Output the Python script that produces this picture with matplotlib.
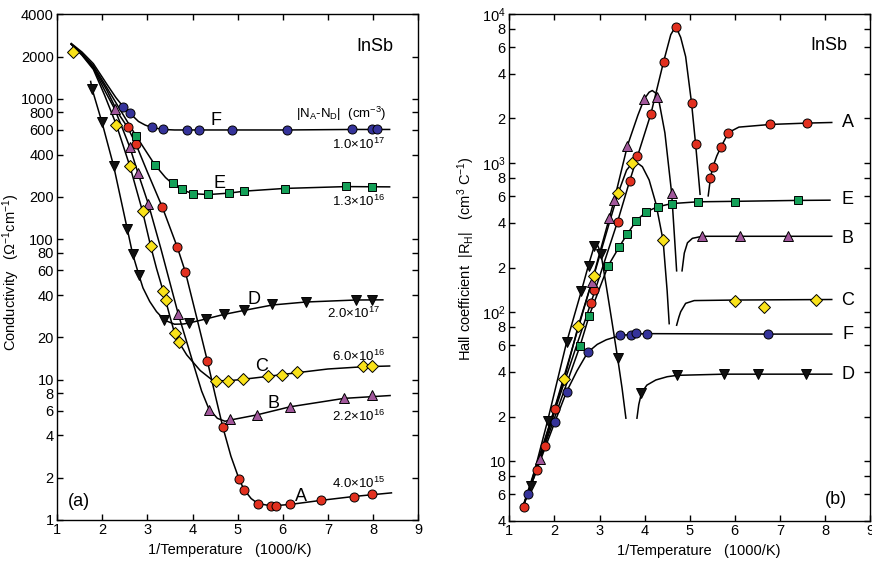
import matplotlib
matplotlib.use('Agg')
import matplotlib.pyplot as plt
from matplotlib.ticker import FixedLocator, NullLocator

plt.rcParams['font.family'] = ['Liberation Sans', 'DejaVu Sans']
plt.rcParams['mathtext.fontset'] = 'custom'
plt.rcParams['mathtext.rm'] = 'Liberation Sans'
plt.rcParams['mathtext.it'] = 'Liberation Sans:italic'
plt.rcParams['mathtext.bf'] = 'Liberation Sans:bold'

# ---- colours / markers per sample
RED, PURPLE, YELLOW, BLACK, GREEN, BLUE = '#e2301f', '#a1579b', '#f9e21a', '#111111', '#14a058', '#35339a'

# ================= (a) conductivity: measured points =================
a_A_x = [2.56, 2.74, 3.33, 3.66, 3.84, 4.33, 4.67, 5.03, 5.14, 5.45, 5.75, 5.84, 6.16, 6.85, 7.57, 7.99]
a_A_y = [626, 479, 169, 88, 58.5, 13.5, 4.6, 1.96, 1.63, 1.31, 1.26, 1.26, 1.29, 1.38, 1.47, 1.53]
a_B_x = [2.27, 2.61, 2.79, 3.02, 3.68, 4.36, 4.82, 5.42, 6.16, 7.36, 7.99]
a_B_y = [849, 451, 296, 178, 29.5, 6.05, 5.2, 5.58, 6.39, 7.41, 7.82]
a_C_x = [1.34, 2.31, 2.61, 2.89, 3.07, 3.35, 3.40, 3.60, 3.70, 4.53, 4.78, 5.12, 5.68, 5.98, 6.32, 7.79, 7.99]
a_C_y = [2170, 653, 331, 158, 89.5, 42.5, 37, 21.5, 18.4, 9.73, 9.79, 10.05, 10.6, 10.8, 11.3, 12.4, 12.4]
a_D_x = [1.77, 1.99, 2.25, 2.55, 2.67, 2.81, 3.37, 3.92, 4.29, 4.69, 5.14, 5.77, 6.51, 7.63, 7.99]
a_D_y = [1180, 682, 332, 119, 78.7, 55.5, 26.4, 25.4, 27, 29.1, 31.1, 34.3, 35.7, 37, 37]
a_E_x = [2.75, 3.16, 3.57, 3.76, 4.01, 4.35, 4.81, 5.15, 6.04, 7.40, 7.99]
a_E_y = [542, 340, 251, 227, 210, 209, 212, 221, 228, 238, 236]
a_F_x = [2.46, 2.61, 3.10, 3.35, 3.88, 4.15, 4.88, 6.10, 7.54, 7.98, 8.09]
a_F_y = [880, 790, 630, 605, 600, 600, 600, 600, 608, 608, 608]

# (a) fitted curves
a_A_lx = [1.31, 1.55, 1.8, 2.1, 2.35, 2.56, 2.74, 3.0, 3.33, 3.66, 3.84, 4.1, 4.33, 4.5, 4.67, 4.85, 5.03, 5.14, 5.3, 5.45, 5.75, 6.16, 6.85, 7.57, 8.41]
a_A_ly = [2450, 2080, 1680, 1150, 790, 626, 479, 300, 169, 88, 58.5, 27, 13.5, 7.8, 4.6, 2.85, 1.96, 1.65, 1.42, 1.31, 1.26, 1.29, 1.38, 1.47, 1.56]
a_B_lx = [1.31, 1.55, 1.8, 2.05, 2.27, 2.45, 2.61, 2.79, 3.02, 3.3, 3.68, 4.0, 4.2, 4.36, 4.55, 4.72, 4.9, 5.42, 6.16, 7.36, 8.38]
a_B_ly = [2450, 2060, 1650, 1150, 849, 610, 451, 296, 178, 85, 29.5, 13.5, 8.3, 6.2, 5.3, 5.05, 5.2, 5.6, 6.4, 7.35, 7.7]
a_C_lx = [1.31, 1.55, 1.8, 2.05, 2.31, 2.61, 2.89, 3.07, 3.2, 3.35, 3.5, 3.6, 3.7, 3.87, 4.17, 4.45, 4.78, 5.12, 5.68, 6.32, 7.0, 7.79, 8.37]
a_C_ly = [2450, 2040, 1620, 1060, 653, 331, 158, 89.5, 62, 42.5, 28, 21.5, 18.4, 15.0, 11.6, 9.85, 9.8, 10.05, 10.55, 11.2, 11.9, 12.35, 12.5]
a_D_lx = [1.74, 1.77, 1.99, 2.25, 2.55, 2.67, 2.81, 2.9, 3.05, 3.2, 3.38, 3.6, 3.8, 3.92, 4.29, 4.69, 5.14, 5.77, 6.51, 7.63, 8.22]
a_D_ly = [1330, 1180, 682, 332, 119, 78.7, 55.5, 45, 36, 30.5, 26.5, 24.8, 24.9, 25.3, 27, 29.1, 31.1, 34.0, 35.7, 36.9, 37]
a_E_lx = [1.31, 1.55, 1.8, 2.1, 2.4, 2.75, 3.16, 3.4, 3.57, 3.76, 4.01, 4.35, 4.81, 5.15, 6.04, 7.4, 8.37]
a_E_ly = [2450, 2100, 1720, 1200, 830, 542, 340, 275, 246, 225, 211, 208, 213, 220, 230, 237, 236]
a_F_lx = [1.31, 1.55, 1.8, 2.1, 2.3, 2.46, 2.61, 2.8, 2.95, 3.1, 3.35, 3.6, 4.5, 6.1, 7.5, 8.37]
a_F_ly = [2480, 2150, 1780, 1270, 1020, 880, 790, 690, 650, 625, 605, 600, 600, 600, 605, 605]

# ================= (b) Hall coefficient: measured points =================
b_A_x = [1.32, 1.61, 1.79, 2.02, 2.81, 2.87, 3.40, 3.67, 3.83, 4.14, 4.42, 4.69, 5.04, 5.13, 5.46, 5.51, 5.69, 5.86, 6.79, 7.60]
b_A_y = [4.96, 8.8, 12.6, 22.4, 116, 141, 406, 764, 1114, 2153, 4800, 8260, 2553, 1352, 796, 940, 1282, 1610, 1824, 1862]
b_B_x = [1.67, 2.83, 3.215, 3.325, 3.62, 3.99, 4.28, 4.60, 5.28, 6.11, 7.18]
b_B_y = [10.4, 161, 428, 566, 1316, 2719, 2786, 628, 324, 324, 324]
b_C_x = [2.22, 2.53, 2.87, 3.41, 3.72, 4.41, 6.00, 6.64, 7.79]
b_C_y = [35.8, 81.5, 175, 628, 1005, 304, 120, 108, 122]
b_D_x = [1.47, 1.85, 2.27, 2.60, 2.76, 2.87, 3.03, 3.40, 3.93, 4.72, 5.77, 6.51, 7.58]
b_D_y = [6.8, 18.8, 63, 140, 204, 279, 245, 49.8, 28.8, 37.8, 38.5, 38.5, 38.5]
b_E_x = [2.57, 2.77, 3.19, 3.44, 3.61, 3.82, 4.03, 4.29, 4.60, 5.18, 6.01, 7.40]
b_E_y = [59.8, 94.8, 205, 276, 334, 413, 472, 511, 537, 552, 554, 566]
b_F_x = [1.41, 2.01, 2.27, 2.74, 3.46, 3.69, 3.80, 4.05, 6.73]
b_F_y = [6.07, 18.4, 29.4, 54, 70.6, 70.3, 73, 71.9, 71.3]

# (b) fitted curves (two branches where the sign of R_H changes)
b_A_lx1 = [1.28, 1.61, 2.02, 2.5, 2.81, 3.40, 3.67, 4.14, 4.42, 4.58, 4.69, 4.80, 4.91, 5.04, 5.13, 5.19, 5.23]
b_A_ly1 = [4.75, 8.8, 22.4, 61, 116, 406, 764, 2153, 4800, 7300, 8300, 7000, 5200, 2553, 1352, 850, 620]
b_A_lx2 = [5.41, 5.46, 5.51, 5.60, 5.69, 5.86, 6.09, 6.79, 7.60, 8.15]
b_A_ly2 = [605, 796, 940, 1120, 1282, 1610, 1750, 1824, 1862, 1880]
b_B_lx1 = [1.28, 1.67, 2.2, 2.83, 3.215, 3.325, 3.62, 3.85, 3.99, 4.10, 4.17, 4.25, 4.32, 4.45, 4.60, 4.66, 4.71]
b_B_ly1 = [4.75, 10.4, 36, 161, 428, 566, 1316, 2100, 2700, 3000, 3080, 2950, 2600, 1600, 628, 330, 190]
b_B_lx2 = [4.83, 4.88, 4.95, 5.06, 5.28, 8.15]
b_B_ly2 = [190, 250, 293, 314, 324, 324]
b_C_lx1 = [1.28, 2.22, 2.53, 2.87, 3.41, 3.60, 3.72, 3.82, 3.95, 4.10, 4.25, 4.41, 4.50, 4.545]
b_C_ly1 = [4.75, 35.8, 81.5, 175, 628, 900, 1000, 1015, 950, 774, 538, 304, 139, 84]
b_C_lx2 = [4.71, 4.76, 4.80, 4.91, 5.1, 6.0, 8.15]
b_C_ly2 = [82, 93, 101, 115, 120, 121, 122]
b_D_lx1 = [1.42, 1.47, 1.85, 2.27, 2.60, 2.76, 2.87, 2.95, 3.03, 3.15, 3.28, 3.40, 3.50, 3.585]
b_D_ly1 = [6.0, 6.8, 18.8, 63, 140, 210, 270, 285, 250, 150, 85, 49.8, 31, 19.5]
b_D_lx2 = [3.83, 3.87, 3.93, 4.05, 4.25, 4.5, 4.72, 5.77, 8.15]
b_D_ly2 = [19.5, 24, 28.8, 32.5, 35.2, 37, 37.8, 38.5, 38.5]
b_E_lx = [1.28, 2.57, 2.77, 3.0, 3.19, 3.44, 3.61, 3.82, 4.03, 4.29, 4.60, 5.18, 6.01, 7.40, 8.11]
b_E_ly = [4.75, 59.8, 94.8, 145, 205, 276, 334, 413, 472, 511, 537, 552, 556, 564, 566]
b_F_lx = [1.28, 1.41, 2.01, 2.27, 2.5, 2.74, 2.95, 3.15, 3.46, 3.8, 4.05, 6.73, 8.15]
b_F_ly = [4.75, 6.07, 18.4, 29.4, 40.5, 54, 61, 65.5, 70, 71.5, 72, 71.5, 71.5]

# ---- tick values
a_yticks = [1, 2, 4, 6, 8, 10, 20, 40, 60, 80, 100, 200, 400, 600, 800, 1000, 2000, 4000]
a_ylabels = [str(v) for v in a_yticks]
b_yticks = [4, 6, 8, 10, 20, 40, 60, 80, 100, 200, 400, 600, 800, 1000, 2000, 4000, 6000, 8000, 10000]
b_ylabels = ['4', '6', '8', '10', '2', '4', '6', '8', '10$^2$', '2', '4', '6', '8', '10$^3$',
             '2', '4', '6', '8', '10$^4$']
xticks = [1, 2, 3, 4, 5, 6, 7, 8, 9]

fig = plt.figure(figsize=(8.72, 5.61), dpi=100)
ax1 = fig.add_axes([0.0657, 0.0731, 0.4137, 0.9014])
ax2 = fig.add_axes([0.5841, 0.0718, 0.4137, 0.9027])

line_kw = dict(color='black', lw=1.1, zorder=2)
mk = dict(ls='none', mec='black', mew=0.7, zorder=3)

# ---------------- panel (a)
for lx, ly in [(a_A_lx, a_A_ly), (a_B_lx, a_B_ly), (a_C_lx, a_C_ly),
               (a_D_lx, a_D_ly), (a_E_lx, a_E_ly), (a_F_lx, a_F_ly)]:
    ax1.plot(lx, ly, **line_kw)
ax1.plot(a_A_x, a_A_y, marker='o', ms=6.5, mfc=RED, **mk)
ax1.plot(a_B_x, a_B_y, marker='^', ms=7, mfc=PURPLE, **mk)
ax1.plot(a_C_x, a_C_y, marker='D', ms=6, mfc=YELLOW, **mk)
ax1.plot(a_D_x, a_D_y, marker='v', ms=7, mfc=BLACK, **mk)
ax1.plot(a_E_x, a_E_y, marker='s', ms=6.3, mfc=GREEN, **mk)
ax1.plot(a_F_x, a_F_y, marker='o', ms=6.5, mfc=BLUE, **mk)

ax1.set_yscale('log')
ax1.set_xlim(1, 9)
ax1.set_ylim(1, 4000)
ax1.yaxis.set_major_locator(FixedLocator(a_yticks))
ax1.set_yticklabels(a_ylabels)
ax1.set_xlabel('1/Temperature   (1000/K)', fontsize=10.5)
ax1.set_ylabel('Conductivity   (Ω$^{-1}$cm$^{-1}$)', fontsize=10.5)
ax1.yaxis.set_label_coords(-0.098, 0.49)
ax1.xaxis.set_label_coords(0.479, -0.045)

ax1.text(0.932, 0.937, 'InSb', transform=ax1.transAxes, ha='right', va='center', fontsize=13)
ax1.text(0.061, 0.036, '(a)', transform=ax1.transAxes, ha='center', va='center', fontsize=13)
for lab, x, y in [('F', 4.52, 700), ('E', 4.59, 251), ('D', 5.36, 37.2),
                  ('C', 5.52, 12.3), ('B', 5.80, 6.75), ('A', 6.40, 1.46)]:
    ax1.text(x, y, lab, ha='center', va='center', fontsize=13)
ax1.text(8.3, 785, '$|$N$_{\\rm A}$-N$_{\\rm D}$$|$  (cm$^{-3}$)', ha='right', va='center', fontsize=9.5)
for txt, x, y in [('1.0×10$^{17}$', 8.26, 473), ('1.3×10$^{16}$', 8.26, 186),
                  ('2.0×10$^{17}$', 8.16, 29.4), ('6.0×10$^{16}$', 8.26, 14.6),
                  ('2.2×10$^{16}$', 8.26, 5.51), ('4.0×10$^{15}$', 8.26, 1.82)]:
    ax1.text(x, y, txt, ha='right', va='center', fontsize=9.5)

# ---------------- panel (b)
for lx, ly in [(b_A_lx1, b_A_ly1), (b_A_lx2, b_A_ly2), (b_B_lx1, b_B_ly1), (b_B_lx2, b_B_ly2),
               (b_C_lx1, b_C_ly1), (b_C_lx2, b_C_ly2), (b_D_lx1, b_D_ly1), (b_D_lx2, b_D_ly2),
               (b_E_lx, b_E_ly), (b_F_lx, b_F_ly)]:
    ax2.plot(lx, ly, **line_kw)
ax2.plot(b_A_x, b_A_y, marker='o', ms=6.5, mfc=RED, **mk)
ax2.plot(b_B_x, b_B_y, marker='^', ms=7, mfc=PURPLE, **mk)
ax2.plot(b_C_x, b_C_y, marker='D', ms=6, mfc=YELLOW, **mk)
ax2.plot(b_D_x, b_D_y, marker='v', ms=7, mfc=BLACK, **mk)
ax2.plot(b_E_x, b_E_y, marker='s', ms=6.3, mfc=GREEN, **mk)
ax2.plot(b_F_x, b_F_y, marker='o', ms=6.5, mfc=BLUE, **mk)

ax2.set_yscale('log')
ax2.set_xlim(1, 9)
ax2.set_ylim(4, 10000)
ax2.yaxis.set_major_locator(FixedLocator(b_yticks))
ax2.set_yticklabels(b_ylabels)
ax2.set_xlabel('1/Temperature   (1000/K)', fontsize=10.5)
ax2.set_ylabel('Hall coefficient  $|$R$_{\\rm H}$$|$   (cm$^3$ C$^{-1}$)', fontsize=10.5)
ax2.yaxis.set_label_coords(-0.09, 0.517)
ax2.xaxis.set_label_coords(0.525, -0.045)

ax2.text(0.937, 0.938, 'InSb', transform=ax2.transAxes, ha='right', va='center', fontsize=13)
ax2.text(0.937, 0.041, '(b)', transform=ax2.transAxes, ha='right', va='center', fontsize=13)
for lab, y in [('A', 1875), ('E', 571), ('B', 315), ('C', 121), ('F', 71.3), ('D', 38.1)]:
    ax2.text(8.5, y, lab, ha='center', va='center', fontsize=13)

for ax in (ax1, ax2):
    ax.xaxis.set_major_locator(FixedLocator(xticks))
    ax.yaxis.set_minor_locator(NullLocator())
    ax.xaxis.set_minor_locator(NullLocator())
    ax.tick_params(which='both', direction='in', top=True, right=True,
                   length=4.5, width=1.0, labelsize=10.5, pad=2.5)
    for s in ax.spines.values():
        s.set_linewidth(1.0)

fig.savefig('out.png', dpi=100)
